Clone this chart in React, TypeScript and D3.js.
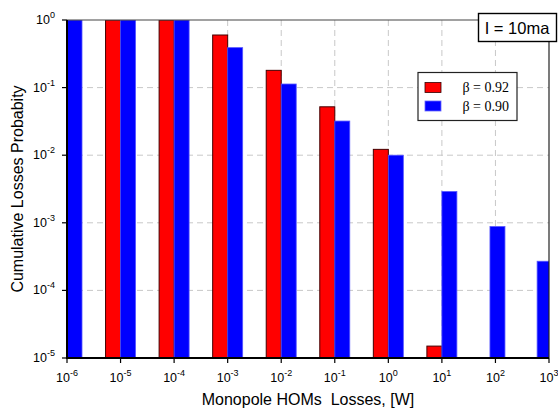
import React from "react";
import * as d3 from "d3";

const width = 558;
const height = 410;
const margin = { top: 20, right: 9, bottom: 52, left: 67 };
const red = "#ff0000";
const blue = "#0000ff";
const sans = "'Liberation Sans', Arial, sans-serif";
const serif = "'Liberation Serif', 'Times New Roman', serif";

// x tick exponents (losses, W) and y tick exponents (probability)
const xExponents = [-6, -5, -4, -3, -2, -1, 0, 1, 2, 3];
const yExponents = [-5, -4, -3, -2, -1, 0];

// beta = 0.92 (red bars sit left of their x)
const redLosses = [1e-5, 1e-4, 1e-3, 1e-2, 1e-1, 1e0, 1e1];
const redProb = [1, 1, 0.6, 0.18, 0.052, 0.0122, 1.5e-5];

// beta = 0.90 (blue bars sit right of their x)
const blueLosses = [1e-6, 1e-5, 1e-4, 1e-3, 1e-2, 1e-1, 1e0, 1e1, 79, 600];
const blueProb = [1, 1, 1, 0.39, 0.113, 0.032, 0.01, 0.0029, 0.00088, 0.00027];

const legendItems = [
  { label: "β = 0.92", color: red, stroke: "#300" },
  { label: "β = 0.90", color: blue, stroke: "#66f" }
];

const barWidth = 15;

export default function App() {
  const x = d3
    .scaleLog()
    .domain([1e-6, 1e3])
    .range([margin.left, width - margin.right]);
  const y = d3
    .scaleLog()
    .domain([1e-5, 1])
    .range([height - margin.bottom, margin.top]);

  const left = margin.left;
  const right = width - margin.right;
  const top = margin.top;
  const bottom = height - margin.bottom;

  return (
    <svg
      width={width}
      height={height}
      style={{ position: "absolute", left: 0, top: 0, background: "#fff" }}
    >
      <defs>
        <clipPath id="plot">
          <rect x={left} y={top} width={right - left} height={bottom - top} />
        </clipPath>
      </defs>

      {/* grid */}
      <g stroke="#c8c8c8" strokeWidth={1} strokeDasharray="6,4">
        {xExponents.slice(1, -1).map(e => (
          <line key={"gx" + e} x1={x(10 ** e)} x2={x(10 ** e)} y1={top} y2={bottom} />
        ))}
        {yExponents.slice(1, -1).map(e => (
          <line key={"gy" + e} x1={left} x2={right} y1={y(10 ** e)} y2={y(10 ** e)} />
        ))}
      </g>

      {/* bars */}
      <g clipPath="url(#plot)">
        {redLosses.map((d, i) => (
          <rect
            key={"r" + i}
            x={x(d) - barWidth}
            y={y(redProb[i])}
            width={barWidth}
            height={bottom - y(redProb[i])}
            fill={red}
            stroke="#400"
            strokeWidth={1}
          />
        ))}
        {blueLosses.map((d, i) => (
          <rect
            key={"b" + i}
            x={x(d)}
            y={y(blueProb[i])}
            width={barWidth}
            height={bottom - y(blueProb[i])}
            fill={blue}
            stroke="#55f"
            strokeWidth={0.8}
          />
        ))}
      </g>

      {/* frame */}
      <line x1={left} x2={right} y1={top} y2={top} stroke="#444" strokeWidth={1.2} />
      <line x1={right} x2={right} y1={top} y2={bottom} stroke="#222" strokeWidth={1.2} />
      <line x1={left} x2={left} y1={top} y2={bottom + 1} stroke="#000" strokeWidth={2} />
      <line x1={left - 1} x2={right} y1={bottom} y2={bottom} stroke="#000" strokeWidth={2} />

      {/* x ticks */}
      <g fontFamily={sans} fill="#000">
        {xExponents.map(e => (
          <g key={"xt" + e}>
            <line x1={x(10 ** e)} x2={x(10 ** e)} y1={bottom} y2={bottom + 5} stroke="#000" strokeWidth={1.2} />
            <text x={x(10 ** e)} y={bottom + 24} textAnchor="middle" fontSize={12.5}>
              <tspan>10</tspan>
              <tspan dy={-6} fontSize={9}>{e < 0 ? "-" + -e : e}</tspan>
            </text>
          </g>
        ))}
      </g>

      {/* y ticks */}
      <g fontFamily={sans} fill="#000">
        {yExponents.map(e => (
          <g key={"yt" + e}>
            <line x1={left - 5} x2={left} y1={y(10 ** e)} y2={y(10 ** e)} stroke="#000" strokeWidth={1.2} />
            <text x={left - 12} y={y(10 ** e) + 4} textAnchor="end" fontSize={12.5}>
              <tspan>10</tspan>
              <tspan dy={-6} fontSize={9}>{e < 0 ? "-" + -e : e}</tspan>
            </text>
          </g>
        ))}
      </g>

      {/* axis titles */}
      <text x={308} y={405} textAnchor="middle" fontFamily={sans} fontSize={16} fill="#000" xmlSpace="preserve">
        Monopole HOMs  Losses, [W]
      </text>
      <text
        transform={`translate(23, 189) rotate(-90)`}
        textAnchor="middle"
        fontFamily={sans}
        fontSize={16}
        fill="#000"
      >
        Cumulative Losses Probabity
      </text>

      {/* legend */}
      <g>
        <rect x={418} y={72.5} width={99} height={48} fill="#fff" stroke="#222" strokeWidth={1.2} />
        {legendItems.map((d, i) => (
          <g key={d.label}>
            <rect x={425} y={82.5 + i * 18.5} width={16} height={10} fill={d.color} stroke={d.stroke} strokeWidth={0.8} />
            <text x={509} y={92 + i * 18.5} textAnchor="end" fontFamily={serif} fontSize={14} fill="#000">
              {d.label}
            </text>
          </g>
        ))}
      </g>

      {/* annotation */}
      <rect x={478.5} y={13.5} width={78} height={28} fill="#fff" stroke="#000" strokeWidth={1.4} />
      <text x={517} y={33.5} textAnchor="middle" fontFamily={sans} fontSize={16.5} fill="#000">
        I = 10ma
      </text>
    </svg>
  );
}
